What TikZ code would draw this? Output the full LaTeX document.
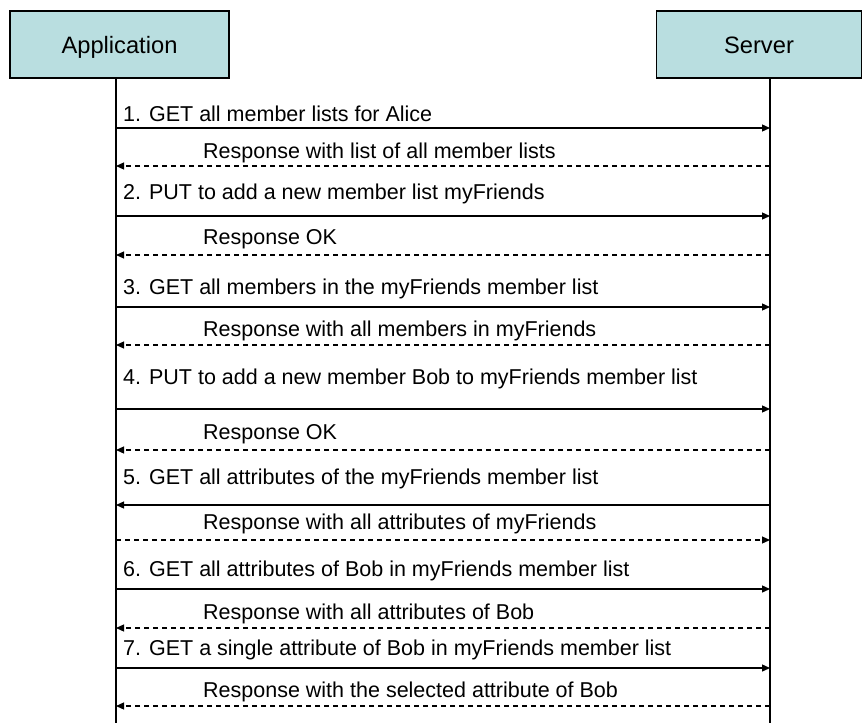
\documentclass[tikz,border=0pt]{standalone}
\usepackage{fontspec}
\setmainfont{Liberation Sans}
\usetikzlibrary{arrows.meta}
\definecolor{boxfill}{RGB}{185,222,224}
\tikzset{
  actor/.style={draw=black, line width=1.2pt, fill=boxfill, minimum height=67pt, inner sep=0pt, text height=17pt, text depth=0pt, font=\fontsize{23.7}{26}\selectfont},
  lifeline/.style={line width=1.3pt},
  req/.style={line width=1.3pt, -{Triangle[length=8pt,width=7pt]}},
  resp/.style={line width=1.2pt, dash pattern=on 5pt off 4pt, -{Triangle[length=8pt,width=7pt]}},
  lbl/.style={anchor=west, inner sep=0pt, font=\fontsize{21.5}{24}\selectfont}
}
\begin{document}
\begin{tikzpicture}[x=1pt,y=-1pt]
\useasboundingbox (0,0) rectangle (862,723);
\node[actor, minimum width=219pt] (app) at (119.5,44.5) {Application};
\node[actor, minimum width=205pt] (srv) at (759,44.5) {Server};
\coordinate (appTop) at (116,78);
\coordinate (appBot) at (116,723);
\coordinate (srvTop) at (770,78);
\coordinate (srvBot) at (770,723);
\draw[lifeline] (appTop) -- (appBot);
\draw[lifeline] (srvTop) -- (srvBot);
% rows
\foreach \n/\y in {1/128,r1/166,2/216,r2/255,3/307,r3/345,4/409,r4/450,5/505,r5/540,6/589,r6/628,7/668,r7/706}{
  \coordinate (a\n) at (116,\y);
  \coordinate (s\n) at (770,\y);
}
\node[lbl] (t1) at (123,114) {1. GET all member lists for Alice};
\draw[req] (a1) -- (s1);
\node[lbl] (tr1) at (203,153) {Response with list of all member lists};
\draw[resp] (sr1) -- (ar1);
\node[lbl] (t2) at (123,194) {2. PUT to add a new member list myFriends};
\draw[req] (a2) -- (s2);
\node[lbl] (tr2) at (203,239) {Response OK};
\draw[resp] (sr2) -- (ar2);
\node[lbl] (t3) at (123,289) {3. GET all members in the myFriends member list};
\draw[req] (a3) -- (s3);
\node[lbl] (tr3) at (203,331) {Response with all members in myFriends};
\draw[resp] (sr3) -- (ar3);
\node[lbl] (t4) at (123,379) {4. PUT to add a new member Bob to myFriends member list};
\draw[req] (a4) -- (s4);
\node[lbl] (tr4) at (203,434) {Response OK};
\draw[resp] (sr4) -- (ar4);
\node[lbl] (t5) at (123,479) {5. GET all attributes of the myFriends member list};
\draw[req] (s5) -- (a5);
\node[lbl] (tr5) at (203,524) {Response with all attributes of myFriends};
\draw[resp] (ar5) -- (sr5);
\node[lbl] (t6) at (123,571) {6. GET all attributes of Bob in myFriends member list};
\draw[req] (a6) -- (s6);
\node[lbl] (tr6) at (203,614) {Response with all attributes of Bob};
\draw[resp] (sr6) -- (ar6);
\node[lbl] (t7) at (123,650) {7. GET a single attribute of Bob in myFriends member list};
\draw[req] (a7) -- (s7);
\node[lbl] (tr7) at (203,692) {Response with the selected attribute of Bob};
\draw[resp] (sr7) -- (ar7);
\end{tikzpicture}
\end{document}
